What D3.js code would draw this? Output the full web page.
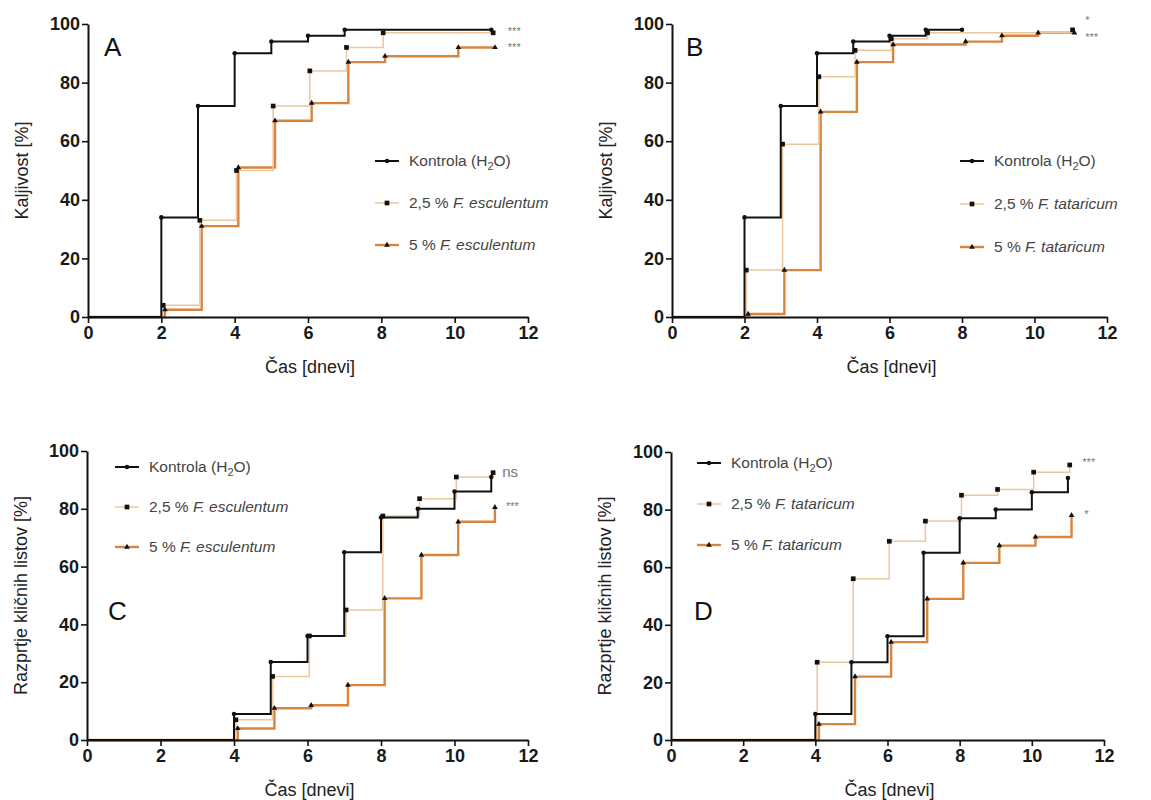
<!DOCTYPE html>
<html>
<head>
<meta charset="utf-8">
<script src="https://cdn.jsdelivr.net/npm/d3@7"></script>
<style>
  body { margin: 0; background: #fff; }
  text { font-family: "Liberation Sans", Arial, sans-serif; }
</style>
</head>
<body>
<script>
// x values are days (treated groups drawn slightly offset, as in the original)
var dayTicks = [0, 2, 4, 6, 8, 10, 12];
var pctTicks = [0, 20, 40, 60, 80, 100];

// panel A - kaljivost, F. esculentum
var ctrlDaysA = [2, 3, 4, 5, 6, 7, 11];
var ctrlValsA = [34, 72, 90, 94, 96, 98, 98];
var lowDaysA = [2.05, 3.05, 4.05, 5.05, 6.05, 7.05, 8.05, 11.05];
var lowValsA = [4, 33, 50, 72, 84, 92, 97, 97];
var highDaysA = [2.1, 3.1, 4.1, 5.1, 6.1, 7.1, 8.1, 10.1, 11.1];
var highValsA = [2.5, 31, 51, 67, 73, 87, 89, 92, 92];

// panel B - kaljivost, F. tataricum
var ctrlDaysB = [2, 3, 4, 5, 6, 7, 8];
var ctrlValsB = [34, 72, 90, 94, 96, 98, 98];
var lowDaysB = [2.05, 3.05, 4.05, 5.05, 6.05, 7.05, 11.05];
var lowValsB = [16, 59, 82, 91, 95, 97, 98];
var highDaysB = [2.1, 3.1, 4.1, 5.1, 6.1, 8.1, 9.1, 10.1, 11.1];
var highValsB = [1, 16, 70, 87, 93, 94, 96, 97, 97];

// panel C - razprtje kličnih listov, F. esculentum
var ctrlDaysC = [4, 5, 6, 7, 8, 9, 10, 11];
var ctrlValsC = [9, 27, 36, 65, 77, 80, 86, 91];
var lowDaysC = [4.05, 5.05, 6.05, 7.05, 8.05, 9.05, 10.05, 11.05];
var lowValsC = [7, 22, 36, 45, 77.5, 83.5, 91, 92.5];
var highDaysC = [4.1, 5.1, 6.1, 7.1, 8.1, 9.1, 10.1, 11.1];
var highValsC = [4, 11, 12, 19, 49, 64, 75.5, 80.5];

// panel D - razprtje kličnih listov, F. tataricum
var ctrlDaysD = [4, 5, 6, 7, 8, 9, 10, 11];
var ctrlValsD = [9, 27, 36, 65, 77, 80, 86, 91];
var lowDaysD = [4.05, 5.05, 6.05, 7.05, 8.05, 9.05, 10.05, 11.05];
var lowValsD = [27, 56, 69, 76, 85, 87, 93, 95.5];
var highDaysD = [4.1, 5.1, 6.1, 7.1, 8.1, 9.1, 10.1, 11.1];
var highValsD = [5.5, 22, 34, 49, 61.5, 67.5, 70.5, 78];

var ctrlColor = "#111111",
    lowColor = "#ecc69e",
    highColor = "#d9843e";

var width = 1151,
    height = 800;

var svg = d3.select("body").append("svg")
    .attr("width", width)
    .attr("height", height);

function zipPts(days, vals) {
  var pts = [[0, 0]];
  for (var i = 0; i < days.length; i++) pts.push([days[i], vals[i]]);
  return pts;
}

function drawPanel(p) {
  var x = d3.scaleLinear().domain([0, 12]).range([p.x0, p.x1]);
  var y = d3.scaleLinear().domain([0, 100]).range([p.y0, p.y1]);

  var line = d3.line()
      .x(function(d){ return x(d[0]); })
      .y(function(d){ return y(d[1]); })
      .curve(d3.curveStepAfter);

  var series = [
    {pts: zipPts(p.highDays, p.highVals), color: highColor, w: 2.4, sym: d3.symbolTriangle, size: 14},
    {pts: zipPts(p.lowDays, p.lowVals), color: lowColor, w: 1.5, sym: d3.symbolSquare, size: 22},
    {pts: zipPts(p.ctrlDays, p.ctrlVals), color: ctrlColor, w: 2, sym: d3.symbolCircle, size: 16}
  ];

  var g = svg.append("g");

  series.forEach(function(s){
    g.append("path")
      .datum(s.pts)
      .attr("fill", "none")
      .attr("stroke", s.color)
      .attr("stroke-width", s.w)
      .attr("d", line);
  });
  series.forEach(function(s){
    g.selectAll(null)
      .data(s.pts.slice(1)).enter()
      .append("path")
      .attr("transform", function(d){ return "translate(" + x(d[0]) + "," + y(d[1]) + ")"; })
      .attr("d", d3.symbol().type(s.sym).size(s.size))
      .attr("fill", "#111");
  });

  // axes
  var xAxis = g.append("g")
      .attr("transform", "translate(0," + p.y0 + ")")
      .call(d3.axisBottom(x).tickValues(dayTicks).tickSize(6).tickPadding(3).tickSizeOuter(0));
  var yAxis = g.append("g")
      .attr("transform", "translate(" + p.x0 + ",0)")
      .call(d3.axisLeft(y).tickValues(pctTicks).tickSize(6).tickPadding(2).tickSizeOuter(0));
  [xAxis, yAxis].forEach(function(a){
    a.select(".domain").attr("stroke", "#111").attr("stroke-width", 2);
    a.selectAll(".tick line").attr("stroke", "#111").attr("stroke-width", 1.6);
    a.selectAll(".tick text")
      .attr("fill", "#1a1a1a")
      .attr("font-size", 18)
      .attr("font-weight", "bold")
      .attr("font-family", "Liberation Sans, Arial, sans-serif");
  });

  // axis titles
  g.append("text")
    .attr("x", (p.x0 + p.x1) / 2 + 2)
    .attr("y", p.y0 + 56)
    .attr("text-anchor", "middle")
    .attr("fill", "#222")
    .style("font-size", "18px")
    .text("Čas [dnevi]");
  g.append("text")
    .attr("transform", "translate(" + (p.x0 - 60) + "," + ((p.y0 + p.y1) / 2) + ") rotate(-90)")
    .attr("text-anchor", "middle")
    .attr("fill", "#222")
    .style("font-size", "18px")
    .text(p.yTitle);

  // panel letter
  g.append("text")
    .attr("x", p.letterX)
    .attr("y", p.letterY)
    .attr("fill", "#111")
    .style("font-size", "26px")
    .text(p.letter);

  // legend
  var leg = g.append("g").attr("transform", "translate(" + p.legX + "," + p.legY + ")");
  var legItems = [
    {color: ctrlColor, w: 2, sym: d3.symbolCircle, size: 16, pre: "Kontrola (H", sub: "2", post: "O)", it: ""},
    {color: lowColor, w: 1.5, sym: d3.symbolSquare, size: 22, pre: "2,5 % ", it: p.species},
    {color: highColor, w: 2.4, sym: d3.symbolTriangle, size: 14, pre: "5 % ", it: p.species}
  ];
  legItems.forEach(function(it, i){
    var row = leg.append("g").attr("transform", "translate(0," + (i * p.legGap) + ")");
    row.append("line")
      .attr("x1", 0).attr("x2", 24)
      .attr("stroke", it.color).attr("stroke-width", it.w);
    row.append("path")
      .attr("transform", "translate(12,0)")
      .attr("d", d3.symbol().type(it.sym).size(it.size))
      .attr("fill", "#111");
    var t = row.append("text")
      .attr("x", 34).attr("y", 5)
      .attr("fill", "#444")
      .style("font-size", "15.5px");
    t.append("tspan").text(it.pre);
    if (it.sub) {
      t.append("tspan").attr("dy", 4).style("font-size", "11px").text(it.sub);
      t.append("tspan").attr("dy", -4).text(it.post);
    } else {
      t.append("tspan").style("font-style", "italic").text(it.it);
    }
  });

  // significance marks
  p.sig.forEach(function(s){
    g.append("text")
      .attr("x", x(s[0]))
      .attr("y", y(s[1]) + 4)
      .attr("fill", "#777")
      .style("font-size", s[2] === "ns" ? "15px" : "11px")
      .text(s[2]);
  });
}

drawPanel({
  x0: 88, x1: 528, y0: 317, y1: 24,
  ctrlDays: ctrlDaysA, ctrlVals: ctrlValsA, lowDays: lowDaysA, lowVals: lowValsA,
  highDays: highDaysA, highVals: highValsA,
  yTitle: "Kaljivost [%]", letter: "A", letterX: 104, letterY: 56,
  species: "F. esculentum", legX: 375, legY: 161, legGap: 42,
  sig: [[11.45, 97.5, "***"], [11.45, 92, "***"]]
});
drawPanel({
  x0: 672, x1: 1107, y0: 317, y1: 24,
  ctrlDays: ctrlDaysB, ctrlVals: ctrlValsB, lowDays: lowDaysB, lowVals: lowValsB,
  highDays: highDaysB, highVals: highValsB,
  yTitle: "Kaljivost [%]", letter: "B", letterX: 686, letterY: 56,
  species: "F. tataricum", legX: 960, legY: 161, legGap: 43,
  sig: [[11.4, 101.5, "*"], [11.4, 95.5, "***"]]
});
drawPanel({
  x0: 87, x1: 528, y0: 740, y1: 451,
  ctrlDays: ctrlDaysC, ctrlVals: ctrlValsC, lowDays: lowDaysC, lowVals: lowValsC,
  highDays: highDaysC, highVals: highValsC,
  yTitle: "Razprtje kličnih listov [%]", letter: "C", letterX: 108, letterY: 620,
  species: "F. esculentum", legX: 115, legY: 467, legGap: 40,
  sig: [[11.3, 92.5, "ns"], [11.4, 81, "***"]]
});
drawPanel({
  x0: 671, x1: 1104, y0: 740, y1: 452,
  ctrlDays: ctrlDaysD, ctrlVals: ctrlValsD, lowDays: lowDaysD, lowVals: lowValsD,
  highDays: highDaysD, highVals: highValsD,
  yTitle: "Razprtje kličnih listov [%]", letter: "D", letterX: 694, letterY: 620,
  species: "F. tataricum", legX: 697, legY: 463, legGap: 41,
  sig: [[11.4, 96.5, "***"], [11.45, 78.5, "*"]]
});
</script>
</body>
</html>
